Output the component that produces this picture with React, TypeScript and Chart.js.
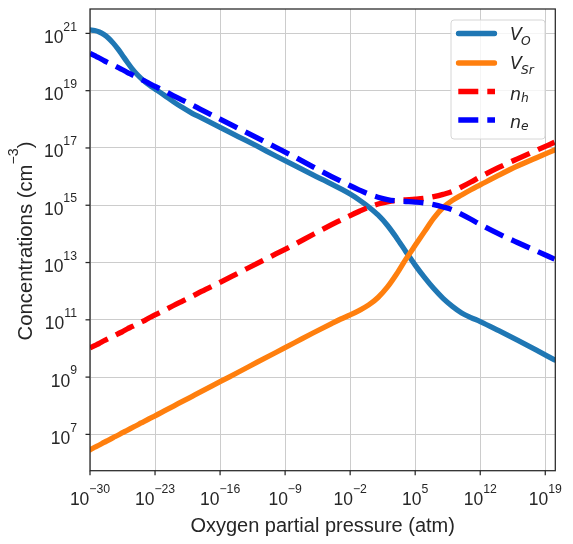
import React, { useEffect, useRef } from "react";
import { Chart, registerables } from "chart.js";

Chart.register(...registerables);

// Oxygen partial pressure (atm)
const pressures = [
  1e-30, 3.16e-30, 1e-29, 3.16e-29, 1e-28, 3.16e-28, 1e-27, 3.16e-27, 1e-26, 3.16e-26,
  1e-25, 3.16e-25, 1e-24, 3.16e-24, 1e-23, 1e-22, 1e-21, 1e-20, 1e-19, 1e-18,
  1e-16, 1e-14, 1e-12, 1e-10, 1e-8, 1e-6, 1e-4, 1e-3, 1e-2, 1e-1,
  1, 1e1, 1e2, 1e3, 1e4, 1e5, 1e6, 1e7, 1e8, 1e9,
  1e10, 1e11, 1e12, 1e14, 1e16, 1e18, 1e20,
];

// Concentrations (cm^-3)
const vO = [
  1.32e21, 1.26e21, 1.12e21, 9.12e20, 6.76e20, 4.57e20, 2.88e20, 1.7e20, 1.0e20, 6.03e19,
  3.89e19, 2.69e19, 1.95e19, 1.48e19, 1.15e19, 6.92e18, 4.07e18, 2.51e18, 1.62e18, 1.12e18,
  5.25e17, 2.45e17, 1.15e17, 5.25e16, 2.45e16, 1.15e16, 5.5e15, 3.72e15, 2.45e15, 1.51e15,
  8.71e14, 4.57e14, 2.0e14, 7.24e13, 2.4e13, 8.13e12, 3.02e12, 1.23e12, 5.62e11, 2.95e11,
  1.74e11, 1.2e11, 8.71e10, 4.17e10, 1.95e10, 8.91e9, 3.98e9,
];

const vSr = [
  2.88e6, 3.55e6, 4.27e6, 5.25e6, 6.31e6, 7.76e6, 9.33e6, 1.15e7, 1.38e7, 1.7e7,
  2.04e7, 2.51e7, 3.02e7, 3.72e7, 4.47e7, 6.61e7, 9.77e7, 1.45e8, 2.14e8, 3.16e8,
  6.92e8, 1.51e9, 3.31e9, 7.24e9, 1.58e10, 3.47e10, 7.41e10, 1.07e11, 1.48e11, 2.14e11,
  3.31e11, 6.03e11, 1.38e12, 3.98e12, 1.32e13, 3.98e13, 1.2e14, 3.55e14, 8.32e14, 1.48e15,
  2.29e15, 3.47e15, 5.13e15, 1.12e16, 2.34e16, 4.47e16, 8.51e16,
];

const nH = [
  1.05e10, 1.26e10, 1.51e10, 1.86e10, 2.24e10, 2.69e10, 3.24e10, 3.89e10, 4.79e10, 5.75e10,
  6.92e10, 8.32e10, 1.0e11, 1.23e11, 1.48e11, 2.14e11, 3.16e11, 4.57e11, 6.61e11, 9.77e11,
  2.04e12, 4.37e12, 9.33e12, 2.0e13, 4.27e13, 9.55e13, 2.09e14, 3.02e14, 4.37e14, 6.17e14,
  8.51e14, 1.1e15, 1.32e15, 1.48e15, 1.55e15, 1.62e15, 1.74e15, 2.0e15, 2.4e15, 3.02e15,
  4.37e15, 6.46e15, 9.77e15, 2.09e16, 4.17e16, 8.13e16, 1.58e17,
];

const nE = [
  2.0e20, 1.66e20, 1.38e20, 1.12e20, 9.33e19, 7.76e19, 6.46e19, 5.37e19, 4.37e19, 3.63e19,
  3.02e19, 2.51e19, 2.09e19, 1.7e19, 1.41e19, 9.77e18, 6.61e18, 4.57e18, 3.16e18, 2.14e18,
  1.02e18, 4.79e17, 2.24e17, 1.05e17, 4.9e16, 2.19e16, 1.0e16, 6.92e15, 4.79e15, 3.39e15,
  2.45e15, 1.91e15, 1.58e15, 1.41e15, 1.35e15, 1.29e15, 1.2e15, 1.05e15, 8.71e14, 6.92e14,
  4.79e14, 3.24e14, 2.14e14, 1.0e14, 5.01e13, 2.57e13, 1.32e13,
];

const xTickExponents = [-30, -23, -16, -9, -2, 5, 12, 19];
const yTickExponents = [7, 9, 11, 13, 15, 17, 19, 21];
const xLimits = [1e-30, 1.2e20];
const yLimits = [5.4e5, 7.1e21];

const seriesMain = ["V", "V", "n", "n"];
const seriesSub = ["O", "Sr", "h", "e"];
const seriesColors = ["#1f77b4", "#ff7f0e", "#ff0000", "#0000ff"];
const seriesDashed = [false, false, true, true];

const xTitle = "Oxygen partial pressure (atm)";
const yTitleMain = "Concentrations (cm";
const yTitleSup = "\u22123";
const yTitleEnd = ")";

const TEXT = "#262626";
const SANS = '"Liberation Sans", Arial, sans-serif';
const MATH = '"DejaVu Sans", sans-serif';
const TICK_PX = 17.5;
const SUP_PX = 12.25;
const LW = 5.3;
const DASH = [20, 9];

function expLabel(e: number) {
  return e < 0 ? "\u2212" + Math.abs(e) : String(e);
}

function drawPower(ctx: CanvasRenderingContext2D, e: number, x: number, baseline: number, align: "center" | "right") {
  const base = "10";
  const sup = expLabel(e);
  ctx.font = `${TICK_PX}px ${SANS}`;
  const wb = ctx.measureText(base).width;
  ctx.font = `${SUP_PX}px ${SANS}`;
  const ws = ctx.measureText(sup).width;
  const total = wb + ws;
  const left = align === "center" ? x - total / 2 : x - total;
  ctx.textAlign = "left";
  ctx.textBaseline = "alphabetic";
  ctx.font = `${TICK_PX}px ${SANS}`;
  ctx.fillText(base, left, baseline);
  ctx.font = `${SUP_PX}px ${SANS}`;
  ctx.fillText(sup, left + wb, baseline - 12.3);
}

const decorPlugin = {
  id: "decor",
  afterDraw(chart: any) {
    const ctx: CanvasRenderingContext2D = chart.ctx;
    const area = chart.chartArea;
    const xs = chart.scales.x;
    const ys = chart.scales.y;
    ctx.save();

    // spines
    ctx.strokeStyle = TEXT;
    ctx.lineWidth = 1.25;
    ctx.setLineDash([]);
    ctx.strokeRect(area.left, area.top, area.right - area.left, area.bottom - area.top);

    // tick marks and labels
    ctx.fillStyle = TEXT;
    ctx.lineWidth = 1.25;
    xTickExponents.forEach((e) => {
      const px = xs.getPixelForValue(Math.pow(10, e));
      ctx.beginPath();
      ctx.moveTo(px, area.bottom);
      ctx.lineTo(px, area.bottom + 4.5);
      ctx.stroke();
      drawPower(ctx, e, px, 505, "center");
    });
    yTickExponents.forEach((e) => {
      const py = ys.getPixelForValue(Math.pow(10, e));
      ctx.beginPath();
      ctx.moveTo(area.left - 4.5, py);
      ctx.lineTo(area.left, py);
      ctx.stroke();
      drawPower(ctx, e, 77, py + 9.5, "right");
    });

    // axis titles
    ctx.font = `20px ${SANS}`;
    ctx.textAlign = "center";
    ctx.textBaseline = "alphabetic";
    ctx.fillText(xTitle, (area.left + area.right) / 2, 531.5);

    ctx.save();
    ctx.translate(31.5, 241);
    ctx.rotate(-Math.PI / 2);
    ctx.textAlign = "left";
    ctx.font = `20.3px ${SANS}`;
    const w1 = ctx.measureText(yTitleMain).width;
    const w3 = ctx.measureText(yTitleEnd).width;
    ctx.font = `14.2px ${SANS}`;
    const w2 = ctx.measureText(yTitleSup).width;
    let sx = -(w1 + w2 + w3) / 2;
    ctx.font = `20.3px ${SANS}`;
    ctx.fillText(yTitleMain, sx, 0);
    sx += w1;
    ctx.font = `14.2px ${SANS}`;
    ctx.fillText(yTitleSup, sx, -13.5);
    sx += w2;
    ctx.font = `20.3px ${SANS}`;
    ctx.fillText(yTitleEnd, sx, 0);
    ctx.restore();

    // legend
    const bx = 451, by = 20, bw = 94, bh = 119, r = 3;
    ctx.beginPath();
    ctx.moveTo(bx + r, by);
    ctx.lineTo(bx + bw - r, by);
    ctx.arcTo(bx + bw, by, bx + bw, by + r, r);
    ctx.lineTo(bx + bw, by + bh - r);
    ctx.arcTo(bx + bw, by + bh, bx + bw - r, by + bh, r);
    ctx.lineTo(bx + r, by + bh);
    ctx.arcTo(bx, by + bh, bx, by + bh - r, r);
    ctx.lineTo(bx, by + r);
    ctx.arcTo(bx, by, bx + r, by, r);
    ctx.closePath();
    ctx.fillStyle = "rgba(255,255,255,0.8)";
    ctx.fill();
    ctx.strokeStyle = "#d6d6d6";
    ctx.lineWidth = 1;
    ctx.stroke();

    const rows = [33.5, 63, 91.5, 120];
    rows.forEach((ry, i) => {
      ctx.strokeStyle = seriesColors[i];
      ctx.lineWidth = LW;
      ctx.beginPath();
      if (seriesDashed[i]) {
        ctx.setLineDash(DASH);
        ctx.lineCap = "butt";
        ctx.moveTo(458.3, ry);
        ctx.lineTo(495, ry);
      } else {
        ctx.setLineDash([]);
        ctx.lineCap = "round";
        ctx.moveTo(458.5, ry);
        ctx.lineTo(494.5, ry);
      }
      ctx.stroke();
      ctx.setLineDash([]);

      const isCap = seriesMain[i] === "V";
      const base = ry + (isCap ? 6 : 8);
      ctx.fillStyle = TEXT;
      ctx.textAlign = "left";
      ctx.font = `italic ${TICK_PX}px ${MATH}`;
      ctx.fillText(seriesMain[i], 510, base);
      const wm = ctx.measureText(seriesMain[i]).width;
      ctx.font = `italic ${SUP_PX}px ${MATH}`;
      ctx.fillText(seriesSub[i], 510 + wm - (isCap ? 1 : 0), base + (isCap ? 5 : 2));
    });

    ctx.restore();
  },
};

export default function App() {
  const canvasRef = useRef<HTMLCanvasElement | null>(null);

  useEffect(() => {
    const canvas = canvasRef.current;
    if (!canvas) return;
    const seriesValues = [vO, vSr, nH, nE];
    const datasets = seriesValues.map((vals, i) => ({
      label: seriesMain[i] + "_" + seriesSub[i],
      data: pressures.map((p, k) => ({ x: p, y: vals[k] })),
      borderColor: seriesColors[i],
      backgroundColor: seriesColors[i],
      borderWidth: LW,
      borderDash: seriesDashed[i] ? DASH : [],
      borderCapStyle: seriesDashed[i] ? "butt" : "round",
      borderJoinStyle: "round",
      pointRadius: 0,
      pointHoverRadius: 0,
      fill: false,
      cubicInterpolationMode: "monotone",
      order: 4 - i,
      clip: 0,
    }));

    const chart = new Chart(canvas, {
      type: "line",
      data: { datasets } as any,
      options: {
        animation: false,
        responsive: false,
        events: [],
        layout: { padding: { left: 0, top: 9, right: 17.7, bottom: 0 } },
        plugins: { legend: { display: false }, tooltip: { enabled: false }, title: { display: false } },
        scales: {
          x: {
            type: "logarithmic",
            min: xLimits[0],
            max: xLimits[1],
            border: { display: false },
            grid: { color: "#cccccc", lineWidth: 1, drawTicks: false },
            ticks: { display: false, autoSkip: false },
            afterBuildTicks: (s: any) => {
              s.ticks = xTickExponents.map((e) => ({ value: Math.pow(10, e) }));
            },
            afterFit: (s: any) => {
              s.height = 73.3;
            },
          },
          y: {
            type: "logarithmic",
            min: yLimits[0],
            max: yLimits[1],
            border: { display: false },
            grid: { color: "#cccccc", lineWidth: 1, drawTicks: false },
            ticks: { display: false, autoSkip: false },
            afterBuildTicks: (s: any) => {
              s.ticks = yTickExponents.map((e) => ({ value: Math.pow(10, e) }));
            },
            afterFit: (s: any) => {
              s.width = 90;
            },
          },
        },
      } as any,
      plugins: [decorPlugin],
    });
    return () => chart.destroy();
  }, []);

  return (
    <div style={{ position: "absolute", left: 0, top: 0, width: 573, height: 544, background: "#ffffff" }}>
      <canvas ref={canvasRef} width={573} height={544} style={{ width: 573, height: 544, display: "block" }} />
    </div>
  );
}
